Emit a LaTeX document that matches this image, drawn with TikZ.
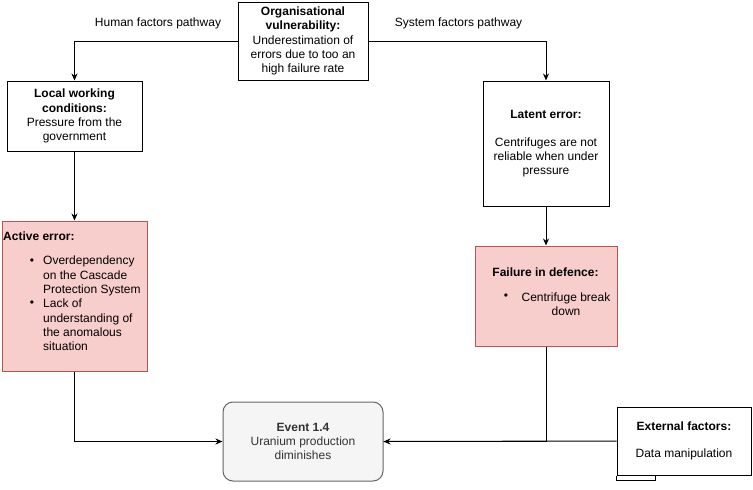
\documentclass[tikz,border=0pt]{standalone}
\usepackage{fontspec}
\setmainfont{Liberation Sans}
\usetikzlibrary{arrows.meta}
\definecolor{redfill}{HTML}{F8CECC}
\definecolor{redline}{HTML}{B85450}
\definecolor{greyfill}{HTML}{F5F5F5}
\definecolor{greyline}{HTML}{666666}
\definecolor{greytext}{HTML}{333333}
\begin{document}
\begin{tikzpicture}[x=1pt,y=-1pt,
  every node/.style={font=\fontsize{12}{14.2}\selectfont},
  box/.style={draw=black,line width=1pt,fill=white,align=center,inner sep=0pt},
  redbox/.style={draw=redline,line width=1pt,fill=redfill,inner sep=0pt},
  evbox/.style={draw=greyline,line width=1pt,fill=greyfill,rounded corners=10pt,align=center,inner sep=0pt,text=greytext},
  txt/.style={inner sep=0pt,align=left},
  conn/.style={line width=1pt,draw=black},
  arr/.style={conn,-{Stealth[length=7pt,width=6pt]}}]
\useasboundingbox (0,0) rectangle (753,490);
\fill[white] (0,0) rectangle (753,490);

% boxes
\node[box,minimum width=130pt,minimum height=78pt] (org) at (303,41)
  {\textbf{Organisational}\\\textbf{vulnerability:}\\Underestimation of\\errors due to too an\\high failure rate};
\node[box,minimum width=135pt,minimum height=70pt] (local) at (74.5,116)
  {\textbf{Local working}\\\textbf{conditions:}\\Pressure from the\\government};
\node[box,minimum width=126pt,minimum height=125pt] (latent) at (546,143.5)
  {\textbf{Latent error:}\\[14pt]Centrifuges are not\\reliable when under\\pressure};
\node[redbox,minimum width=145pt,minimum height=150pt] (active) at (74.5,296) {};
\node[redbox,minimum width=142pt,minimum height=100pt] (failure) at (546,296) {};
\node[evbox,minimum width=160pt,minimum height=79pt] (event) at (303,441.5)
  {\textbf{Event 1.4}\\Uranium production\\diminishes};
\node[box,minimum width=134pt,minimum height=68pt] (external) at (684,441)
  {\textbf{External factors:}\\[13pt]Data manipulation};
\draw[line width=1pt] (external.south west) -- ++(0,5) -| (655,475);

% texts inside red boxes
\node[txt,anchor=west] (acttitle) at (3,236) {\textbf{Active error:}};
\node[txt] (actb1) at (32,262) {•};
\node[txt,anchor=west] (actt1) at (43,276) {Overdependency\\on the Cascade\\Protection System};
\node[txt] (actb2) at (32,304) {•};
\node[txt,anchor=west] (actt2) at (43,325) {Lack of\\understanding of\\the anomalous\\situation};
\node[txt] (failtitle) at (545.5,272) {\textbf{Failure in defence:}};
\node[txt] (failb1) at (506,297) {•};
\node[txt,align=center] (failt1) at (566,304) {Centrifuge break\\down};

% pathway labels
\node[txt] (hfp) at (158,23) {Human factors pathway};
\node[txt] (sfp) at (458.5,23) {System factors pathway};

% connectors
\draw[arr] (org.west) -| (local.north);
\draw[arr] (org.east) -| (latent.north);
\draw[arr] (local.south) -- (active.north);
\draw[arr] (latent.south) -- (failure.north);
\draw[arr] (active.south) |- (event.west);
\draw[arr] (failure.south) |- (event.east);
\draw[conn] (external.west) -- (event.east);
\end{tikzpicture}
\end{document}
